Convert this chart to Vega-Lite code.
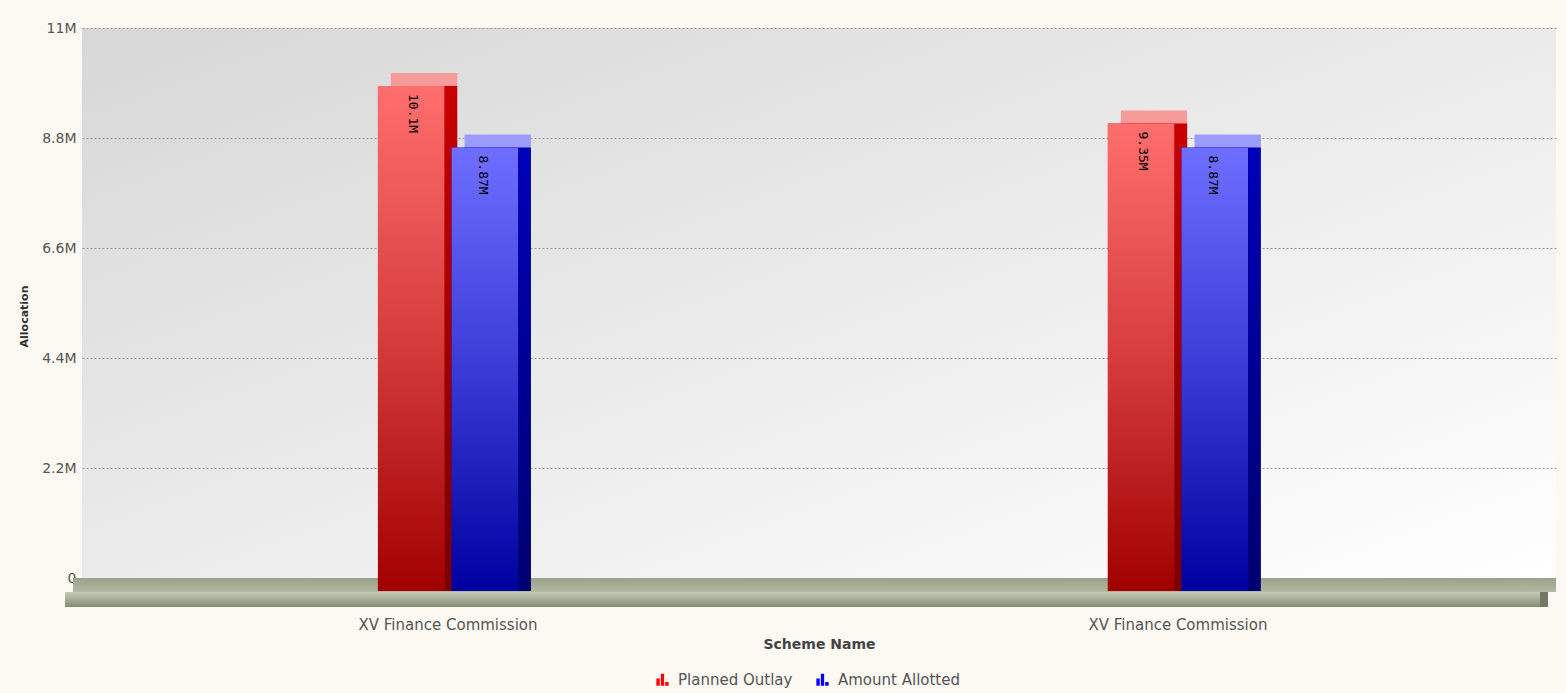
{
  "$schema": "https://vega.github.io/schema/vega-lite/v6.json",
  "width": 1474,
  "height": 550,
  "autosize": "none",
  "padding": {"left": 82, "top": 28, "right": 10, "bottom": 115},
  "background": "#fcf8f2",
  "config": {
    "font": "DejaVu Sans",
    "view": {
      "stroke": null,
      "fill": {"gradient": "linear", "x1": 0, "y1": 0, "x2": 1, "y2": 1, "stops": [{"offset": 0, "color": "#d7d7d7"}, {"offset": 1, "color": "#ffffff"}]}
    }
  },
  "data": {
    "values": [
      {"entry": "XV Finance Commission|1", "series": "Planned Outlay", "value": 10100000},
      {"entry": "XV Finance Commission|1", "series": "Amount Allotted", "value": 8870000},
      {"entry": "XV Finance Commission|2", "series": "Planned Outlay", "value": 9350000},
      {"entry": "XV Finance Commission|2", "series": "Amount Allotted", "value": 8870000}
    ]
  },
  "layer": [
    {
      "data": {"values": [{}]},
      "mark": {"type": "rect", "xOffset": -9, "yOffset": 0, "y2Offset": 14, "fill": {"gradient": "linear", "x1": 0, "y1": 0, "x2": 0, "y2": 1, "stops": [{"offset": 0, "color": "#9aa08a"}, {"offset": 1, "color": "#b4b9a4"}]}},
      "encoding": {"x": {"value": 0}, "x2": {"value": "width"}, "y": {"datum": 0}, "y2": {"datum": 0}}
    },
    {
      "data": {"values": [{}]},
      "mark": {"type": "rect", "xOffset": -17, "x2Offset": -16, "yOffset": 14, "y2Offset": 29, "fill": {"gradient": "linear", "x1": 0, "y1": 0, "x2": 0, "y2": 1, "stops": [{"offset": 0, "color": "#c6cab6"}, {"offset": 0.45, "color": "#aab09a"}, {"offset": 1, "color": "#838b74"}]}},
      "encoding": {"x": {"value": 0}, "x2": {"value": "width"}, "y": {"datum": 0}, "y2": {"datum": 0}}
    },
    {
      "data": {"values": [{}]},
      "mark": {"type": "rect", "xOffset": -16, "x2Offset": -8, "yOffset": 14, "y2Offset": 29, "fill": "#727a63"},
      "encoding": {"x": {"value": "width"}, "x2": {"value": "width"}, "y": {"datum": 0}, "y2": {"datum": 0}}
    },
    {
      "encoding": {
        "x": {
          "field": "entry", "type": "nominal", "sort": null,
          "scale": {"type": "band", "paddingInner": 0.808, "paddingOuter": 0.4137, "align": 0.49},
          "axis": {"title": "Scheme Name", "labelExpr": "split(datum.label, '|')[0]", "labelAngle": 0, "domain": false, "ticks": false, "tickSize": 0, "grid": false, "labelPadding": 39, "labelFontSize": 15, "labelColor": "#555555", "titleFontSize": 14, "titleFontWeight": "bold", "titleColor": "#444444", "titlePadding": 5}
        },
        "y": {
          "field": "value", "type": "quantitative",
          "scale": {"domain": [0, 11000000], "nice": false},
          "axis": {"title": "Allocation", "titleY": 288, "values": [0, 2200000, 4400000, 6600000, 8800000, 11000000], "labelExpr": "format(datum.value, '.2~s')", "grid": true, "gridDash": [2, 2], "gridColor": "#999999", "domain": false, "ticks": false, "tickSize": 0, "labelPadding": 6, "labelFontSize": 14, "labelColor": "#555555", "titleFontSize": 11, "titleFontWeight": "bold", "titleColor": "#333333", "titlePadding": 12}
        }
      },
      "resolve": {"scale": {"xOffset": "independent"}},
      "layer": [
        {
          "mark": {"type": "bar", "yOffset": 0, "y2Offset": 0},
          "encoding": {
            "xOffset": {"field": "series", "type": "nominal", "sort": ["Planned Outlay", "Amount Allotted"], "scale": {"paddingInner": 0.1, "range": [13, 153]}},
            "fill": {"condition": {"test": "datum.series === 'Planned Outlay'", "value": "#f79a9a"}, "value": "#9c9cff"}
          }
        },
        {
          "mark": {"type": "bar", "yOffset": 13, "y2Offset": 13},
          "encoding": {
            "xOffset": {"field": "series", "type": "nominal", "sort": ["Planned Outlay", "Amount Allotted"], "scale": {"paddingInner": 0.1, "range": [13, 153]}},
            "fill": {
              "condition": {"test": "datum.series === 'Planned Outlay'", "value": {"gradient": "linear", "x1": 0, "y1": 0, "x2": 0, "y2": 1, "stops": [{"offset": 0, "color": "#c80000"}, {"offset": 1, "color": "#780000"}]}},
              "value": {"gradient": "linear", "x1": 0, "y1": 0, "x2": 0, "y2": 1, "stops": [{"offset": 0, "color": "#0000b8"}, {"offset": 1, "color": "#000070"}]}
            }
          }
        },
        {
          "mark": {"type": "bar", "yOffset": 13, "y2Offset": 13},
          "encoding": {
            "xOffset": {"field": "series", "type": "nominal", "sort": ["Planned Outlay", "Amount Allotted"], "scale": {"paddingInner": 0.1}},
            "color": {
              "field": "series", "type": "nominal",
              "scale": {"domain": ["Planned Outlay", "Amount Allotted"], "range": ["#ff0000", "#0000ff"]},
              "legend": {"orient": "none", "legendX": 573, "legendY": 644, "direction": "horizontal", "title": null, "symbolType": "M-1,1V-0.2H-0.45V1Z M-0.27,1V-1H0.27V1Z M0.45,1V0.35H1V1Z", "symbolSize": 150, "symbolStrokeWidth": 0, "labelFontSize": 15, "labelColor": "#555555", "labelOffset": 8, "columnPadding": 22}
            }
          }
        },
        {
          "mark": {"type": "bar", "yOffset": 13, "y2Offset": 13},
          "encoding": {
            "xOffset": {"field": "series", "type": "nominal", "sort": ["Planned Outlay", "Amount Allotted"], "scale": {"paddingInner": 0.1}},
            "fill": {
              "condition": {"test": "datum.series === 'Planned Outlay'", "value": {"gradient": "linear", "x1": 0, "y1": 0, "x2": 0, "y2": 1, "stops": [{"offset": 0, "color": "#ff6e6e"}, {"offset": 0.5, "color": "#d63c3c"}, {"offset": 1, "color": "#a00000"}]}},
              "value": {"gradient": "linear", "x1": 0, "y1": 0, "x2": 0, "y2": 1, "stops": [{"offset": 0, "color": "#6e6eff"}, {"offset": 0.5, "color": "#3a3ad6"}, {"offset": 1, "color": "#00009e"}]}
            }
          }
        },
        {
          "mark": {"type": "text", "angle": 90, "align": "left", "baseline": "middle", "yOffset": 21, "font": "DejaVu Sans Mono", "fontSize": 13, "color": "#000000"},
          "encoding": {
            "xOffset": {"field": "series", "type": "nominal", "sort": ["Planned Outlay", "Amount Allotted"], "scale": {"paddingInner": 0.1}},
            "text": {"field": "value", "type": "quantitative", "format": ".3~s"}
          }
        }
      ]
    }
  ]
}
